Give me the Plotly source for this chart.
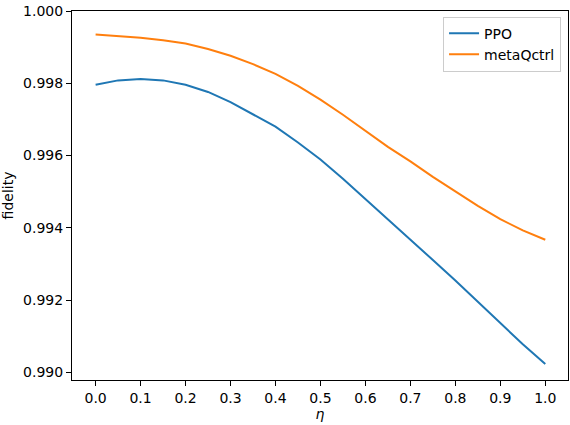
import plotly.graph_objects as go

# data
eta = [0.0, 0.05, 0.1, 0.15, 0.2, 0.25, 0.3, 0.35, 0.4, 0.45, 0.5,
       0.55, 0.6, 0.65, 0.7, 0.75, 0.8, 0.85, 0.9, 0.95, 1.0]
ppo = [0.99796, 0.99808, 0.99812, 0.99808, 0.99796, 0.99776, 0.99748, 0.99713, 0.99680, 0.99636, 0.99589,
       0.99536, 0.99480, 0.99425, 0.99368, 0.99311, 0.99254, 0.99195, 0.99137, 0.99078, 0.99023]
metaqctrl = [0.99935, 0.99931, 0.99926, 0.99919, 0.99910, 0.99895, 0.99876, 0.99853, 0.99826, 0.99793, 0.99755,
             0.99713, 0.99668, 0.99624, 0.99584, 0.99541, 0.99501, 0.99461, 0.99424, 0.99393, 0.99367]

fig = go.Figure()
fig.add_trace(go.Scatter(x=eta, y=ppo, mode='lines', name='PPO',
                         line=dict(color='#1f77b4', width=2)))
fig.add_trace(go.Scatter(x=eta, y=metaqctrl, mode='lines', name='metaQctrl',
                         line=dict(color='#ff7f0e', width=2)))

axis_style = dict(showline=True, linecolor='black', linewidth=1, mirror=True,
                  ticks='outside', ticklen=5, tickcolor='black', showgrid=False,
                  zeroline=False, tickfont=dict(size=14, color='black'))

fig.update_layout(
    width=570, height=425,
    margin=dict(l=72, r=2, t=11, b=45),
    plot_bgcolor='white', paper_bgcolor='white',
    font=dict(family='DejaVu Sans', color='black'),
    xaxis=dict(axis_style, range=[-0.0525, 1.0505], dtick=0.1, tick0=0, tickformat='.1f',
               title=dict(text='<i>η</i>', font=dict(size=14), standoff=4)),
    yaxis=dict(axis_style, range=[0.98979, 1.0], dtick=0.002, tick0=0.99, tickformat='.3f',
               title=dict(text='fidelity', font=dict(size=14), standoff=8)),
    legend=dict(x=0.986, y=0.985, xanchor='right', yanchor='top',
                bgcolor='rgba(255,255,255,0.8)', bordercolor='#cccccc', borderwidth=1,
                font=dict(size=14)),
    showlegend=True,
)

# page body margin would shift the figure by 8px
fig.write_html("out.html", config={'displayModeBar': False},
               post_script="document.body.style.margin='0';")
